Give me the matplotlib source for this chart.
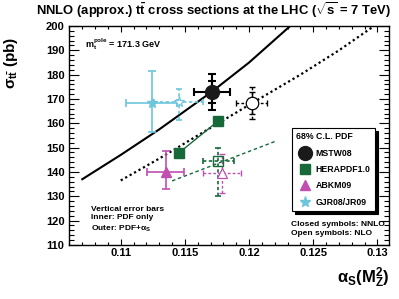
import matplotlib
matplotlib.use("Agg")
import matplotlib.pyplot as plt
from matplotlib.lines import Line2D
from matplotlib.ticker import MultipleLocator

plt.rcParams['font.family'] = ['Liberation Sans', 'DejaVu Sans']
plt.rcParams['font.weight'] = 'bold'
plt.rcParams['mathtext.fontset'] = 'custom'
plt.rcParams['mathtext.rm'] = 'Liberation Sans:bold'
plt.rcParams['mathtext.it'] = 'Liberation Sans:bold'
plt.rcParams['mathtext.bf'] = 'Liberation Sans:bold'

# ---------------- data ----------------
# MSTW08 sigma(alpha_s) curves
as_nnlo_curve = [0.1070, 0.1100, 0.1130, 0.1171, 0.1200, 0.1232]
sig_nnlo_curve = [137.0, 147.0, 157.5, 173.0, 185.0, 200.0]
as_nlo_curve = [0.1100, 0.1130, 0.1160, 0.1202, 0.1240, 0.1270, 0.1296]
sig_nlo_curve = [136.5, 145.5, 155.0, 168.2, 180.0, 190.0, 199.5]

# HERAPDF1.0 lines
as_hera_nnlo = [0.1145, 0.1176]
sig_hera_nnlo = [147.7, 161.0]
as_hera_nlo = [0.1140, 0.1221]
sig_hera_nlo = [136.3, 152.7]

# points: alpha_s, sigma, alpha_s err, inner (down, up), outer (down, up)
mstw_nnlo = (0.1171, 172.8, 0.0014, (4.5, 4.7), (7.2, 7.4))
mstw_nlo = (0.1202, 168.2, 0.0012, (4.5, 4.6), (6.5, 6.9))
hera_nlo = (0.1176, 144.3, 0.0012, (14.0, 5.7))
abkm_nnlo = (0.1135, 140.1, 0.00143, (7.2, 8.5))
abkm_nlo = (0.1179, 139.5, 0.0015, (8.3, 8.0))
gjr_nnlo = (0.1124, 168.2, 0.0020, (11.9, 13.3))
gjr_nlo = (0.1145, 168.6, 0.0019, (7.2, 5.5))

legend_names = ["MSTW08", "HERAPDF1.0", "ABKM09", "GJR08/JR09"]

c_mstw = "#1a1a1a"
c_hera = "#17693a"
c_abkm = "#c04fb0"
c_gjr = "#6cc6dc"

fig = plt.figure(figsize=(3.99, 2.99), dpi=100)
ax = fig.add_axes([0.174, 0.181, 0.801, 0.732])

# curves
ax.plot(as_nnlo_curve, sig_nnlo_curve, color="black", lw=1.5, zorder=2)
ax.plot(as_nlo_curve, sig_nlo_curve, color="black", lw=1.6, ls=(0, (1, 1.3)), zorder=2)
ax.plot(as_hera_nnlo, sig_hera_nnlo, color=c_hera, lw=1.0, zorder=2)
ax.plot(as_hera_nlo, sig_hera_nlo, color=c_hera, lw=1.0, ls=(0, (2.5, 2)), zorder=2)


def bars(x, y, xe, ye, col, dashed, cap=2.5, lw=1.0):
    eb = ax.errorbar([x], [y], xerr=[[xe], [xe]], yerr=[[ye[0]], [ye[1]]],
                     fmt="none", ecolor=col, elinewidth=lw, capsize=cap,
                     capthick=lw, zorder=3)
    if dashed:
        for lc in eb[2]:
            lc.set_linestyle((0, (2, 1.5)))
    return eb


# MSTW08
bars(mstw_nnlo[0], mstw_nnlo[1], mstw_nnlo[2], mstw_nnlo[4], "black", False, cap=3, lw=1.5)
ax.errorbar([mstw_nnlo[0]], [mstw_nnlo[1]], yerr=[[mstw_nnlo[3][0]], [mstw_nnlo[3][1]]],
            fmt="none", ecolor="black", elinewidth=1.5, capsize=3, capthick=1.5, zorder=3)
ax.plot([mstw_nnlo[0]], [mstw_nnlo[1]], "o", color=c_mstw, ms=10, zorder=4)

bars(mstw_nlo[0], mstw_nlo[1], mstw_nlo[2], mstw_nlo[4], "black", True, cap=2, lw=1.0)
ax.errorbar([mstw_nlo[0]], [mstw_nlo[1]], yerr=[[mstw_nlo[3][0]], [mstw_nlo[3][1]]],
            fmt="none", ecolor="black", elinewidth=1.0, capsize=2, capthick=1.0, zorder=3)
ax.plot([mstw_nlo[0]], [mstw_nlo[1]], "o", mfc="white", mec="black", mew=0.9,
        ms=9, zorder=4)

# HERAPDF1.0
ax.plot(as_hera_nnlo, sig_hera_nnlo, "s", color=c_hera, ms=6.5, zorder=4, ls="none")
bars(hera_nlo[0], hera_nlo[1], hera_nlo[2], hera_nlo[3], c_hera, True, cap=2, lw=1.2)
ax.plot([hera_nlo[0]], [hera_nlo[1]], "s", mfc="none", mec=c_hera, mew=1.0, ms=7, zorder=4)

# ABKM09
bars(abkm_nnlo[0], abkm_nnlo[1], abkm_nnlo[2], abkm_nnlo[3], c_abkm, False, cap=3, lw=1.2)
ax.plot([abkm_nnlo[0]], [abkm_nnlo[1]], "^", color=c_abkm, ms=7, zorder=4)
bars(abkm_nlo[0], abkm_nlo[1], abkm_nlo[2], abkm_nlo[3], c_abkm, True, cap=2, lw=1.0)
ax.plot([abkm_nlo[0]], [abkm_nlo[1]], "^", mfc="white", mec=c_abkm, mew=0.9, ms=7, zorder=4)

# GJR08/JR09
bars(gjr_nnlo[0], gjr_nnlo[1], gjr_nnlo[2], gjr_nnlo[3], c_gjr, False, cap=3, lw=1.2)
ax.plot([gjr_nnlo[0]], [gjr_nnlo[1]], "*", color=c_gjr, ms=7, zorder=4)
bars(gjr_nlo[0], gjr_nlo[1], gjr_nlo[2], gjr_nlo[3], c_gjr, True, cap=2, lw=1.2)
ax.plot([gjr_nlo[0]], [gjr_nlo[1]], "*", mfc="white", mec=c_gjr, mew=0.9, ms=8, zorder=4)

# axes
ax.set_xlim(0.106, 0.1309)
ax.set_ylim(110, 200)
ax.xaxis.set_major_locator(MultipleLocator(0.005))
ax.xaxis.set_minor_locator(MultipleLocator(0.001))
ax.yaxis.set_major_locator(MultipleLocator(10))
ax.yaxis.set_minor_locator(MultipleLocator(2))
ax.set_xticks([0.11, 0.115, 0.12, 0.125, 0.13])
ax.set_xticklabels(["0.11", "0.115", "0.12", "0.125", "0.13"])
ax.tick_params(which="both", direction="in", top=True, right=True, labelsize=8, width=0.8)
ax.tick_params(axis="y", which="major", length=7)
ax.tick_params(axis="y", which="minor", length=3.5)
ax.tick_params(axis="x", which="major", length=4)
ax.tick_params(axis="x", which="minor", length=2)
ax.tick_params(axis="x", pad=2.5)
for lab in ax.get_xticklabels() + ax.get_yticklabels():
    lab.set_fontweight("bold")
for s in ax.spines.values():
    s.set_linewidth(1.0)

ax.set_ylabel(r"$\sigma_{\mathrm{t\bar{t}}}$ (pb)", fontsize=11, fontweight="bold")
ax.yaxis.set_label_coords(-0.155, 0.83)
fig.text(0.975, 0.03, r"$\mathregular{\alpha_S(M_Z^2)}$", ha="right", va="bottom", fontsize=12)

fig.text(0.535, 0.965, r"NNLO (approx.) t$\mathregular{\bar{t}}$ cross sections at the LHC ($\mathregular{\sqrt{s}}$ = 7 TeV)",
         ha="center", va="center", fontsize=9.4, fontweight="bold")

ax.text(0.05, 0.915, r"m$_\mathregular{t}^\mathregular{pole}$ = 171.3 GeV", transform=ax.transAxes,
        fontsize=6.5, fontweight="bold", va="center")
ax.text(0.067, 0.05, "Vertical error bars\nInner: PDF only\nOuter: PDF+$\\mathregular{\\alpha_S}$",
        transform=ax.transAxes, fontsize=6, fontweight="bold", va="bottom", linespacing=1.35)
ax.text(0.694, 0.035, "Closed symbols: NNLO\nOpen symbols: NLO", transform=ax.transAxes,
        fontsize=6, fontweight="bold", va="bottom", linespacing=1.45)

handles = [
    Line2D([], [], marker="o", color=c_mstw, ls="none", ms=10),
    Line2D([], [], marker="s", color=c_hera, ls="none", ms=7),
    Line2D([], [], marker="^", color=c_abkm, ls="none", ms=7),
    Line2D([], [], marker="*", color=c_gjr, ls="none", ms=8),
]
leg = ax.legend(handles, legend_names, title="68% C.L. PDF", loc="upper left",
                bbox_to_anchor=(0.696, 0.535), frameon=True, fancybox=False,
                shadow={"color": "black", "alpha": 1.0}, fontsize=6.3,
                title_fontsize=6.3, alignment="left", handletextpad=0.3,
                labelspacing=0.85, borderpad=0.5, handlelength=1.9, borderaxespad=0)
leg.get_frame().set_edgecolor("black")
leg.get_frame().set_linewidth(0.8)
for t in leg.get_texts():
    t.set_fontweight("bold")

fig.savefig("out.png", dpi=100)
